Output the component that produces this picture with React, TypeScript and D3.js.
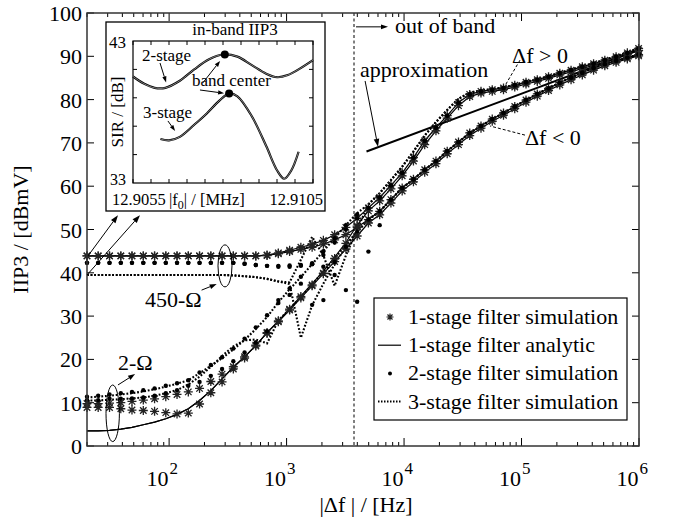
import React from 'react';
import * as d3 from 'd3';

// ---------------- data ----------------
// simulation frequency grid (Hz), |Δf|
const FREQ = [20, 24.9, 31.1, 38.8, 48.3, 60.3, 75.2, 93.7, 116.8, 145.7, 181.6, 226.5, 282.4, 352.1, 439, 547, 682, 851, 1061, 1323, 1650, 2057, 2565, 3198, 3988, 4972, 6200, 7731, 9640, 12020, 14990, 18690, 23300, 29060, 36230, 45180, 56330, 70240, 87580, 109200, 136200, 169800, 211700, 264000, 329200, 410500, 511800, 638200, 795800, 992300];

// out-of-band part (grid index 25..49)
const HI_POS = [55.0, 57.4, 60.2, 63.1, 66.6, 70.5, 73.5, 76.3, 79.3, 81.2, 81.9, 82.3, 82.7, 83.3, 84.0, 84.6, 85.3, 86.1, 86.8, 87.6, 88.3, 89.1, 89.9, 90.8, 91.8];
const HI_POS_B = [54.3, 56.6, 59.4, 62.4, 65.8, 69.6, 72.8, 75.7, 78.6, 80.7, 81.5, 81.9, 82.3, 82.9, 83.6, 84.2, 84.9, 85.7, 86.4, 87.2, 87.9, 88.7, 89.5, 90.4, 91.3];
const HI_POS_T = [55.8, 58.4, 61.4, 64.5, 68.0, 71.7, 74.8, 77.6, 80.2, 81.6, 82.1, 82.4, 82.8, 83.4, 84.1, 84.7, 85.4, 86.2, 86.9, 87.7, 88.4, 89.2, 90.0, 90.9, 91.9];
const HI_NEG = [52.3, 54.2, 56.9, 59.6, 61.6, 63.8, 65.8, 68.1, 70.2, 72.3, 73.9, 75.5, 76.9, 78.4, 79.9, 81.3, 82.6, 83.9, 85.1, 86.2, 87.3, 88.2, 89.0, 89.7, 90.4];
const HI_NEG_B = [51.5, 53.4, 56.1, 58.9, 61.0, 63.2, 65.2, 67.5, 69.6, 71.7, 73.4, 75.0, 76.4, 77.9, 79.4, 80.8, 82.1, 83.4, 84.6, 85.7, 86.8, 87.8, 88.6, 89.4, 90.1];

// in-band part (grid index 0..)
const A450_POS = [43.9, 43.9, 43.9, 43.9, 43.9, 43.9, 43.9, 43.9, 43.9, 43.9, 43.9, 43.9, 43.9, 43.9, 43.9, 43.9, 44.1, 44.6, 45.2, 45.9, 46.6, 47.5, 48.8, 50.5, 52.6];
const A450_NEG = [43.9, 43.9, 43.9, 43.9, 43.9, 43.9, 43.9, 43.9, 43.9, 43.9, 43.9, 43.9, 43.9, 43.9, 43.9, 43.9, 44.0, 44.4, 44.9, 45.4, 45.9, 46.6, 47.6, 48.8, 50.5];
const A2_POS = [3.5, 3.5, 3.6, 3.9, 4.3, 4.9, 5.5, 6.3, 7.3, 8.6, 10.5, 12.8, 15.5, 18.2, 20.6, 23.2, 26.2, 28.9, 31.7, 34.6, 37.5, 40.4, 43.6, 47.0, 51.0];
const A2_NEG = [3.5, 3.5, 3.6, 3.9, 4.3, 4.9, 5.5, 6.3, 7.3, 8.6, 10.5, 12.8, 15.5, 18.2, 20.6, 23.2, 26.2, 28.7, 31.4, 34.2, 37.0, 39.8, 42.6, 45.5, 48.5];
const S2_POS = [9.8, 9.8, 9.9, 10.0, 10.3, 10.6, 10.9, 11.4, 11.9, 12.5, 13.3, 14.9, 16.6, 18.3, 20.6, 23.3, 26.2, 28.9, 31.6, 34.5, 37.2, 39.9, 43.3, 46.8, 50.8];
const S2_NEG = [8.9, 8.9, 8.9, 8.6, 8.3, 8.2, 8.0, 7.7, 7.4, 7.6, 9.7, 12.3, 14.8, 17.8, 20.3, 23.1, 26.0, 28.7, 31.4, 34.2, 37.0, 39.8, 42.6, 45.5, 48.5];
const D450_POS = [42.3, 42.3, 42.3, 42.3, 42.3, 42.3, 42.3, 42.3, 42.3, 42.3, 42.3, 42.3, 42.3, 42.3, 42.1, 41.8, 41.6, 41.6, 41.7, 41.8, 42.2, 44.1, 47.0, 50.0, 52.6];
const D450_NEG = [42.3, 42.3, 42.3, 42.3, 42.3, 42.3, 42.3, 42.3, 42.3, 42.3, 42.3, 42.3, 42.3, 42.3, 42.1, 41.8, 41.6, 41.4, 41.4, 41.6, 42.0, 41.4, 39.5, 36.0, 33.3, 44.9, 51.0];
const D2_POS = [11.4, 11.6, 11.9, 12.2, 12.5, 12.9, 13.3, 13.9, 14.5, 15.2, 17.0, 18.7, 20.5, 22.5, 24.8, 27.4, 30.2, 33.7, 36.4, 39.1, 42.0, 45.0, 48.0, 51.0, 53.5];
const D2_NEG = [10.6, 10.6, 10.9, 10.9, 11.0, 11.2, 11.6, 12.2, 12.9, 13.9, 14.8, 16.2, 17.8, 19.6, 21.6, 23.9, 26.5, 33.0, 34.9, 37.5, 32.6, 33.7, 42.5, 46.0, 49.5];
const T450_POS = [39.5, 39.5, 39.5, 39.5, 39.5, 39.5, 39.5, 39.5, 39.5, 39.5, 39.5, 39.5, 39.5, 39.4, 39.2, 39.0, 38.6, 38.0, 37.8, 43.0, 48.3, 44.0, 37.0, 44.0, 50.0];
const T450_NEG = [39.5, 39.5, 39.5, 39.5, 39.5, 39.5, 39.5, 39.5, 39.5, 39.5, 39.5, 39.5, 39.5, 39.4, 39.2, 39.0, 38.6, 38.0, 37.4, 25.0, 32.5, 37.5, 42.0, 46.0, 49.5];
const T2_POS = [11.2, 11.4, 11.6, 11.9, 12.2, 12.6, 13.1, 13.7, 14.4, 15.2, 16.8, 18.5, 20.3, 22.3, 24.5, 27.0, 29.8, 33.2, 36.2, 39.0, 42.0, 45.0, 48.0, 51.0, 53.8];
const T2_NEG = [10.5, 10.5, 10.7, 10.8, 11.0, 11.2, 11.6, 12.2, 12.9, 14.2, 16.0, 18.3, 20.8, 23.0, 24.4, 24.6, 23.7, 29.0, 31.6, 34.4, 37.3, 40.3, 43.3, 46.5, 49.5];

const BAND_EDGE = 3750; // Hz
const APPROX_F = [4790, 1e6];
const APPROX_V = [68, 91.5];

const X_DECADES = [100, 1000, 10000, 100000, 1000000];
const X_EXP = ['2', '3', '4', '5', '6'];
const Y_TICKS = [0, 10, 20, 30, 40, 50, 60, 70, 80, 90, 100];

// inset: in-band SIR vs f0
const IN2_F = [12.9055, 12.9058, 12.9061, 12.9064, 12.9068, 12.9072, 12.9076, 12.908, 12.9084, 12.9088, 12.9092, 12.9095, 12.9098, 12.9101, 12.9105];
const IN2_V = [40.5, 40.0, 39.7, 39.7, 40.2, 41.0, 41.7, 42.05, 41.9, 41.3, 40.7, 40.45, 40.6, 41.0, 41.65];
const IN3_F = [12.90626, 12.9065, 12.9068, 12.9072, 12.90755, 12.9079, 12.90817, 12.9084, 12.9088, 12.9092, 12.9095, 12.9097, 12.9099, 12.9101];
const IN3_V = [36.1, 36.0, 36.25, 37.1, 37.9, 38.8, 39.3, 39.1, 37.7, 35.6, 33.9, 33.3, 33.9, 35.2];
const CENTER_F = [12.90805, 12.90817];
const CENTER_V = [42.05, 39.3];

const LEGEND = ['1-stage filter simulation', '1-stage filter analytic', '2-stage filter simulation', '3-stage filter simulation'];

// ---------------- helpers ----------------
function join(low: number[], hi: number[]) {
  return low.concat(hi.slice(low.length - 25));
}

const FONT = '"Liberation Serif", "Times New Roman", serif';

const x = d3.scaleLog().domain([20, 1e6]).range([87, 639]);
const y = d3.scaleLinear().domain([0, 100]).range([446, 13]);
const xi = d3.scaleLinear().domain([12.9055, 12.9105]).range([133, 313]);
const yi = d3.scaleLinear().domain([33, 43]).range([183, 41]);

function Arrow({ x1, y1, x2, y2, head = 7, w = 1 }: any) {
  const ang = Math.atan2(y2 - y1, x2 - x1);
  const hx = x2 - head * Math.cos(ang);
  const hy = y2 - head * Math.sin(ang);
  const px = Math.sin(ang) * head * 0.35;
  const py = -Math.cos(ang) * head * 0.35;
  return (
    <g>
      <line x1={x1} y1={y1} x2={hx} y2={hy} stroke="#000" strokeWidth={w} />
      <polygon points={`${x2},${y2} ${hx + px},${hy + py} ${hx - px},${hy - py}`} fill="#000" />
    </g>
  );
}

function starPath(cx: number, cy: number, r = 4.5) {
  const d = r * 0.72;
  return `M${cx - r},${cy}L${cx + r},${cy}M${cx},${cy - r}L${cx},${cy + r}M${cx - d},${cy - d}L${cx + d},${cy + d}M${cx - d},${cy + d}L${cx + d},${cy - d}`;
}

export default function App() {
  const analytic = [join(A450_POS, HI_POS), join(A450_NEG, HI_NEG), join(A2_POS, HI_POS_B), join(A2_NEG, HI_NEG_B)];
  const stars = [join(A450_POS, HI_POS), join(A450_NEG, HI_NEG), join(S2_POS, HI_POS_B), join(S2_NEG, HI_NEG_B)];
  const dots = [join(D450_POS, HI_POS), join(D450_NEG, HI_NEG), join(D2_POS, HI_POS), join(D2_NEG, HI_NEG)];
  const dotted = [join(T450_POS, HI_POS_T), join(T450_NEG, HI_NEG), join(T2_POS, HI_POS_T), join(T2_NEG, HI_NEG)];

  const line = d3.line<number>().x((_, i) => x(FREQ[i])).y((v) => y(v));
  const inLine = (fs: number[]) => d3.line<number>().x((_, i) => xi(fs[i])).y((v) => yi(v)).curve(d3.curveCatmullRom);

  const minor: number[] = [];
  for (let e = 1; e < 6; e++) for (let m = 2; m <= 9; m++) { const f = m * Math.pow(10, e); if (f >= 20 && f <= 1e6) minor.push(f); }

  const inXTicks = d3.range(12.9055, 12.91051, 0.0005);
  const inYTicks = [35, 37, 39, 41];

  const [l, r] = x.range();
  const [b, t] = y.range();

  return (
    <div style={{ position: 'absolute', left: 0, top: 0 }}>
      <svg width={678} height={523} style={{ display: 'block', background: '#fff' }} fontFamily={FONT}>
        <rect x={0} y={0} width={678} height={523} fill="#fff" />
        {/* ticks */}
        {Y_TICKS.map((v) => (
          <g key={'yt' + v}>
            <line x1={l} x2={l + 7} y1={y(v)} y2={y(v)} stroke="#000" strokeWidth={1} />
            <line x1={r} x2={r - 7} y1={y(v)} y2={y(v)} stroke="#000" strokeWidth={1} />
            <text x={82} y={y(v) + 8} textAnchor="end" fontSize={22}>{v}</text>
          </g>
        ))}
        {minor.map((f) => (
          <g key={'mx' + f}>
            <line x1={x(f)} x2={x(f)} y1={b} y2={b - 4} stroke="#000" strokeWidth={1} />
            <line x1={x(f)} x2={x(f)} y1={t} y2={t + 4} stroke="#000" strokeWidth={1} />
          </g>
        ))}
        {X_DECADES.map((f, i) => (
          <g key={'xt' + f}>
            <line x1={x(f)} x2={x(f)} y1={b} y2={b - 8} stroke="#000" strokeWidth={1} />
            <line x1={x(f)} x2={x(f)} y1={t} y2={t + 8} stroke="#000" strokeWidth={1} />
            <text x={x(f) - 0.5} y={486} textAnchor="end" fontSize={22}>10</text>
            <text x={x(f) + 0.5} y={474} textAnchor="start" fontSize={17}>{X_EXP[i]}</text>
          </g>
        ))}

        {/* band edge */}
        <line x1={x(BAND_EDGE)} x2={x(BAND_EDGE)} y1={t} y2={b} stroke="#000" strokeWidth={1} strokeDasharray="3,2.5" />

        {/* 3-stage dotted */}
        {dotted.map((s, i) => (
          <path key={'t' + i} d={line(s) || ''} fill="none" stroke="#000" strokeWidth={2.1} strokeDasharray="1.8,1.8" />
        ))}
        {/* analytic */}
        {analytic.map((s, i) => (
          <path key={'a' + i} d={line(s) || ''} fill="none" stroke="#000" strokeWidth={1.2} />
        ))}
        {/* approximation */}
        <line x1={x(APPROX_F[0])} y1={y(APPROX_V[0])} x2={x(APPROX_F[1])} y2={y(APPROX_V[1])} stroke="#000" strokeWidth={2} />
        {/* 1-stage stars */}
        {stars.map((s, i) => (
          <path key={'s' + i} d={s.map((v, k) => starPath(x(FREQ[k]), y(v))).join('')} fill="none" stroke="#222" strokeWidth={1.3} />
        ))}
        {/* 2-stage dots */}
        {dots.map((s, i) => (
          <g key={'d' + i}>
            {s.map((v, k) => <circle key={k} cx={x(FREQ[k])} cy={y(v)} r={2.2} fill="#000" />)}
          </g>
        ))}

        {/* frame */}
        <rect x={l} y={t} width={r - l} height={b - t} fill="none" stroke="#333" strokeWidth={1.5} />

        {/* annotations */}
        <Arrow x1={x(3900)} y1={y(96.8)} x2={x(7300)} y2={y(96.8)} head={7} />
        <text x={x(8380)} y={y(95.3)} fontSize={22}>out of band</text>
        <text x={x(4220)} y={y(85.2)} fontSize={22}>approximation</text>
        <Arrow x1={x(4660)} y1={y(84.3)} x2={x(6000)} y2={y(69.1)} head={8} />
        <text x={x(83000)} y={y(88.5)} fontSize={22}>Δf &gt; 0</text>
        <line x1={x(97000)} y1={y(89.1)} x2={x(70800)} y2={y(82.8)} stroke="#000" strokeWidth={1} strokeDasharray="3,2" />
        <text x={x(107000)} y={y(69.5)} fontSize={22}>Δf &lt; 0</text>
        <line x1={x(107000)} y1={y(71.8)} x2={x(54000)} y2={y(73.9)} stroke="#000" strokeWidth={1} strokeDasharray="3,2" />

        <ellipse cx={x(299)} cy={y(41.6)} rx={7} ry={21} fill="none" stroke="#000" strokeWidth={1} />
        <text x={x(62.4)} y={y(32.1)} fontSize={22}>450-Ω</text>
        <Arrow x1={x(189)} y1={y(36.0)} x2={x(254)} y2={y(37.4)} head={7} />
        <ellipse cx={x(33.1)} cy={y(7.55)} rx={6.7} ry={28.3} fill="none" stroke="#000" strokeWidth={1} />
        <text x={x(36.7)} y={y(17.6)} fontSize={22}>2-Ω</text>
        <Arrow x1={x(36.7)} y1={y(14.1)} x2={x(51.3)} y2={y(16.6)} head={7} />
        <Arrow x1={x(20.4)} y1={y(43.9)} x2={x(36.7)} y2={y(53.3)} head={8} />
        <Arrow x1={x(20)} y1={y(39.5)} x2={x(56.5)} y2={y(53.3)} head={8} />

        {/* inset */}
        <rect x={106} y={22} width={219} height={189} fill="#fff" stroke="#000" strokeWidth={1.3} />
        <rect x={xi(12.9055)} y={yi(43)} width={xi(12.9105) - xi(12.9055)} height={yi(33) - yi(43)} fill="none" stroke="#000" strokeWidth={1.2} />
        {inXTicks.map((f, i) => (
          <g key={'ix' + i}>
            <line x1={xi(f)} x2={xi(f)} y1={yi(33)} y2={yi(33) - 4} stroke="#000" strokeWidth={1} />
            <line x1={xi(f)} x2={xi(f)} y1={yi(43)} y2={yi(43) + 4} stroke="#000" strokeWidth={1} />
          </g>
        ))}
        {inYTicks.map((v) => (
          <g key={'iy' + v}>
            <line x1={xi(12.9055)} x2={xi(12.9055) + 4} y1={yi(v)} y2={yi(v)} stroke="#000" strokeWidth={1} />
            <line x1={xi(12.9105)} x2={xi(12.9105) - 4} y1={yi(v)} y2={yi(v)} stroke="#000" strokeWidth={1} />
          </g>
        ))}
        <path d={inLine(IN2_F)(IN2_V) || ''} fill="none" stroke="#000" strokeWidth={2.2} />
        <path d={inLine(IN2_F)(IN2_V) || ''} fill="none" stroke="#fff" strokeWidth={0.5} />
        <path d={inLine(IN3_F)(IN3_V) || ''} fill="none" stroke="#000" strokeWidth={2.2} />
        <path d={inLine(IN3_F)(IN3_V) || ''} fill="none" stroke="#fff" strokeWidth={0.5} />
        {CENTER_F.map((f, i) => <circle key={'c' + i} cx={xi(f)} cy={yi(CENTER_V[i])} r={4} fill="#000" />)}
        <text x={235} y={35} textAnchor="middle" fontSize={17}>in-band IIP3</text>
        <text x={126} y={48} textAnchor="end" fontSize={17}>43</text>
        <text x={126} y={185} textAnchor="end" fontSize={16}>33</text>
        <text transform={`translate(123,${yi(38)}) rotate(-90)`} textAnchor="middle" fontSize={17}>SIR / [dB]</text>
        <text x={112} y={205} fontSize={16.5}>12.9055</text>
        <text x={169} y={205} textAnchor="start" fontSize={16.5}>|f<tspan fontSize={12} dy={4}>0</tspan><tspan dy={-4}>| / [MHz]</tspan></text>
        <text x={323} y={205} textAnchor="end" fontSize={16.5}>12.9105</text>
        <text x={xi(12.90575)} y={yi(41.59)} fontSize={17}>2-stage</text>
        <Arrow x1={xi(12.90625)} y1={yi(41.45)} x2={xi(12.90642)} y2={yi(40.08)} head={6} />
        <text x={xi(12.90714)} y={yi(39.83)} fontSize={17}>band center</text>
        <Arrow x1={xi(12.90744)} y1={yi(40.05)} x2={xi(12.90792)} y2={yi(41.6)} head={6} />
        <Arrow x1={xi(12.90736)} y1={yi(39.55)} x2={xi(12.90803)} y2={yi(39.32)} head={6} />
        <text x={xi(12.90578)} y={yi(37.58)} fontSize={17}>3-stage</text>
        <Arrow x1={xi(12.90647)} y1={yi(37.37)} x2={xi(12.90667)} y2={yi(36.66)} head={6} />

        {/* legend */}
        <rect x={374} y={298} width={253} height={122} fill="#fff" stroke="#000" strokeWidth={1.2} />
        {LEGEND.map((name, i) => {
          const cy = 317 + 28.2 * i;
          return (
            <g key={'lg' + i}>
              {i === 0 && <path d={starPath(390, cy, 3.5)} stroke="#222" strokeWidth={1.2} fill="none" />}
              {i === 1 && <line x1={378} x2={401} y1={cy} y2={cy} stroke="#000" strokeWidth={1.2} />}
              {i === 2 && <circle cx={390} cy={cy} r={2} fill="#000" />}
              {i === 3 && <line x1={378} x2={401} y1={cy} y2={cy} stroke="#000" strokeWidth={2} strokeDasharray="1.5,1.5" />}
              <text x={408} y={cy + 7} fontSize={22}>{name}</text>
            </g>
          );
        })}

        {/* axis titles */}
        <text transform={`translate(28,${(t + b) / 2}) rotate(-90)`} textAnchor="middle" fontSize={22}>IIP3 / [dBmV]</text>
        <text x={366} y={512} textAnchor="middle" fontSize={22}>|Δf | / [Hz]</text>
      </svg>
    </div>
  );
}
